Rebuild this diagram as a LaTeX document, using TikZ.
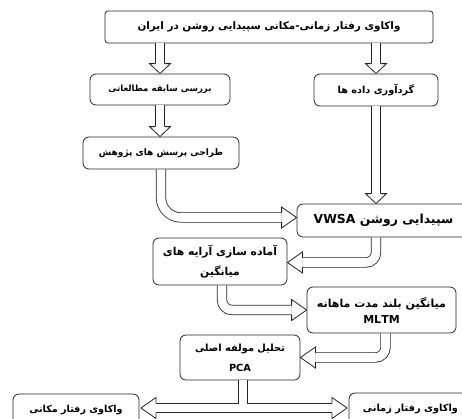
\documentclass[tikz,border=0pt]{standalone}
\usepackage{fontspec}
\newfontfamily\fa[Script=Arabic]{DejaVu Sans}
\TeXXeTstate=1
\usetikzlibrary{calc}

\tikzset{
  boite/.style={draw=black!85, line width=0.8pt, rounded corners=6pt, align=center,
    inner sep=0pt, font=\fa\bfseries\fontsize{10}{20}\selectfont},
  taille/.style={font=\fa\bfseries\fontsize{#1}{20}\selectfont},
  tige/.style={draw=black!85, line width=0.8pt, double=white, double distance=8.6pt},
  vhead/.pic={\draw[draw=black!85, line width=0.8pt, fill=white]
    (-10,-4.7) -- (-10,-10.5) -- (0,0) -- (-10,10.5) -- (-10,4.7);},
  hhead/.pic={\draw[draw=black!85, line width=0.8pt, fill=white]
    (-15,-4.7) -- (-15,-10.5) -- (0,0) -- (-15,10.5) -- (-15,4.7);}
}

\begin{document}
\begin{tikzpicture}[x=1pt, y=-1pt]

  \useasboundingbox (0,0) rectangle (462,418);

  % === Boites ===
  \node[boite, taille=10.4, minimum width=328pt, minimum height=32pt, rounded corners=3pt] (titre) at (269,27)
    {\beginR واکاوی رفتار زمانی-مکانی سپیدایی روشن در ایران\endR};

  \node[boite, taille=8.6, minimum width=140pt, minimum height=31pt] (etat) at (160,89.5)
    {\beginR بررسی سابقه مطالعاتی\endR};
  \node[boite, taille=9.7, minimum width=124pt, minimum height=32pt] (collecte) at (376,90)
    {\beginR گردآوری داده ها\endR};

  \node[boite, taille=9, minimum width=156pt, minimum height=32pt] (questions) at (161,153)
    {\beginR طراحی پرسش های پژوهش\endR};

  \node[boite, taille=12.4, minimum width=173pt, minimum height=33pt]
    (vwsa) at (383.5,220.5) {\beginR سپیدایی روشن \beginL VWSA\endL\endR};

  \node[boite, taille=10.8, minimum width=134pt, minimum height=47pt] (moyenne) at (220,261.5)
    {\beginR آماده سازی آرایه های\endR\\\beginR میانگین\endR};

  \node[boite, minimum width=149pt, minimum height=46pt, font=\fa\bfseries\fontsize{11}{16}\selectfont]
    (mltm) at (381.5,310) {\beginR میانگین بلند مدت ماهانه\endR\\MLTM};

  \node[boite, taille=9.8, minimum width=120pt, minimum height=45pt] (pca) at (240,357.5)
    {\beginR تحلیل مولفه اصلی\endR\\PCA};

  \node[boite, taille=9.6, minimum width=126pt, minimum height=32pt] (spatial) at (76,410)
    {\beginR واکاوی رفتار مکانی\endR};
  \node[boite, taille=9.8, minimum width=123pt, minimum height=32pt] (temporel) at (410.5,409)
    {\beginR واکاوی رفتار زمانی\endR};

  % === Fleches ===
  \draw[tige] (titre.south -| etat.north) -- ($(etat.north)+(0,-10)$);
  \pic[rotate=-90] at (etat.north) {vhead};

  \draw[tige] (titre.south -| collecte.north) -- ($(collecte.north)+(0,-10)$);
  \pic[rotate=-90] at (collecte.north) {vhead};

  \draw[tige] (etat.south) -- ($(etat.south |- questions.north)+(0,-10)$);
  \pic[rotate=-90] at (etat.south |- questions.north) {vhead};

  \draw[tige] (collecte.south) -- ($(collecte.south |- vwsa.north)+(0,-10)$);
  \pic[rotate=-90] at (collecte.south |- vwsa.north) {vhead};

  \draw[tige, rounded corners=20pt] (questions.south) |- ($(vwsa.west)+(-15,-3)$);
  \pic at ($(vwsa.west)+(0,-3)$) {hhead};

  \draw[tige, rounded corners=10pt] (vwsa.south -| collecte.south) |- ($(moyenne.east)+(15,1)$);
  \pic[rotate=180] at ($(moyenne.east)+(0,1)$) {hhead};

  \draw[tige, rounded corners=10pt] ($(moyenne.south)+(2,0)$) |- ($(mltm.west)+(-15,0)$);
  \pic at (mltm.west) {hhead};

  \draw[tige, rounded corners=10pt] ($(mltm.south)+(4,0)$) |- ($(pca.east)+(15,0)$);
  \pic[rotate=180] at (pca.east) {hhead};

  % === Double fleche du bas ===
  \coordinate (gauche) at (141,408);
  \coordinate (droite) at (347,408);
  \draw[tige] ($(gauche)+(15,0)$) -- ($(droite)+(-15,0)$);
  \draw[tige] ($(pca.south)+(3,0)$) -- ($(pca.south)+(3,23.4)$);
  \pic[rotate=180] at (gauche) {hhead};
  \pic at (droite) {hhead};

\end{tikzpicture}
\end{document}
